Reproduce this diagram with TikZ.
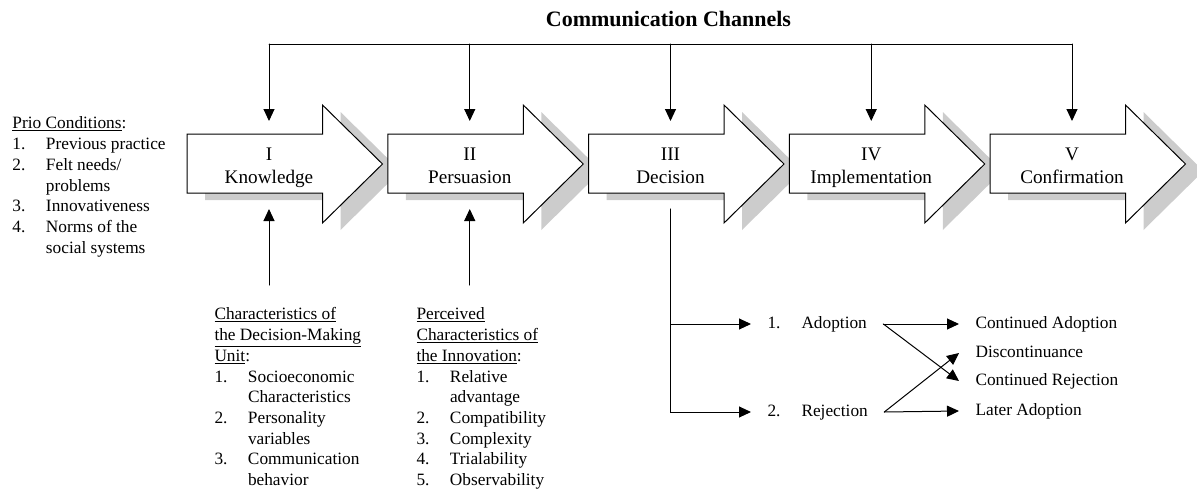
\documentclass[tikz,border=0pt]{standalone}
\usepackage{fontspec}
\setmainfont{Liberation Serif}
\usepackage{tikz}
\usetikzlibrary{arrows.meta}
\definecolor{shadowgray}{HTML}{CCCCCC}
\newcommand{\hd}[1]{\multicolumn{2}{@{}l@{}}{#1}}
\tikzset{
  stagearrow/.style={draw=black,fill=white,line width=1pt},
  stageshadow/.style={fill=shadowgray},
  stagelabel/.style={font=\fontsize{19.2}{23}\selectfont,align=center,inner sep=0pt,
    text height=38pt,text depth=2pt,minimum height=87pt},
  listtext/.style={font=\fontsize{17.3}{20.7}\selectfont,inner sep=0pt,anchor=north west},
  rowtext/.style={font=\fontsize{17.3}{20.7}\selectfont,inner xsep=16pt,inner ysep=0pt,
    anchor=west,text height=12pt,text depth=4pt}
}
\begin{document}
\begin{tikzpicture}[line cap=round,>={Triangle[length=12pt,width=11pt]},x=1pt,y=-1pt,line width=1pt]
\useasboundingbox (0,0) rectangle (1197,493);
\foreach \i/\name/\num/\txt in {0/know/I/Knowledge,1/pers/II/Persuasion,2/dec/III/Decision,3/impl/IV/Implementation,4/conf/V/Confirmation}{
  \begin{scope}[shift={(187+200.75*\i,0)}]
    \fill[stageshadow,shift={(18,7)}] (0,134) -- (135.5,134) -- (135.5,105) -- (195.5,164) -- (135.5,223) -- (135.5,193) -- (0,193) -- cycle;
    \draw[stagearrow] (0,134) -- (135.5,134) -- (135.5,105) -- (195.5,164) -- (135.5,223) -- (135.5,193) -- (0,193) -- cycle;
    \node[stagelabel] (\name) at (82,165) {\num\\\txt};
  \end{scope}
}
\node[font=\fontsize{22}{26}\selectfont\bfseries] (chan) at (668.5,19) {Communication Channels};
\coordinate (chanline) at (0,44);
\coordinate (lowline) at (0,285);
\draw (know.north |- chanline) -- (conf.north |- chanline);
\foreach \n in {know,pers,dec,impl,conf}
  \draw[->] (\n.north |- chanline) -- (\n.north);
\draw[->] (know.south |- lowline) -- (know.south);
\draw[->] (pers.south |- lowline) -- (pers.south);
\node[listtext] (prio) at (12,114) {\begin{tabular}{@{}p{33.5pt}@{}l@{}}
\hd{\underline{Prio Conditions}:}\\
1. & Previous practice\\
2. & Felt needs/\\
   & problems\\
3. & Innovativeness\\
4. & Norms of the\\
   & social systems
\end{tabular}};
\node[listtext] (dmu) at (214,305) {\begin{tabular}{@{}p{33.5pt}@{}l@{}}
\hd{\underline{Characteristics of}}\\
\hd{\underline{the Decision-Making}}\\
\hd{\underline{Unit}:}\\
1. & Socioeconomic\\
   & Characteristics\\
2. & Personality\\
   & variables\\
3. & Communication\\
   & behavior
\end{tabular}};
\node[listtext] (innov) at (416,305) {\begin{tabular}{@{}p{33.5pt}@{}l@{}}
\hd{\underline{Perceived}}\\
\hd{\underline{Characteristics of}}\\
\hd{\underline{the Innovation}:}\\
1. & Relative\\
   & advantage\\
2. & Compatibility\\
3. & Complexity\\
4. & Trialability\\
5. & Observability
\end{tabular}};
\node[rowtext] (adopt) at (751,324) {\makebox[34pt][l]{1.}Adoption};
\node[rowtext] (reject) at (751,412) {\makebox[34pt][l]{2.}Rejection};
\node[rowtext] (cadopt) at (959,324) {Continued Adoption};
\node[rowtext] (discont) at (959,353) {Discontinuance};
\node[rowtext] (creject) at (959,381) {Continued Rejection};
\node[rowtext] (later) at (959,411) {Later Adoption};
\draw[->] (dec.south) |- (adopt.west);
\draw[->] (dec.south) |- (reject.west);
\draw[->] (adopt.east) -- (cadopt.west);
\draw[->] (adopt.east) -- (creject.west);
\draw[->] (reject.east) -- (discont.west);
\draw[->] (reject.east) -- (later.west);
\end{tikzpicture}
\end{document}
